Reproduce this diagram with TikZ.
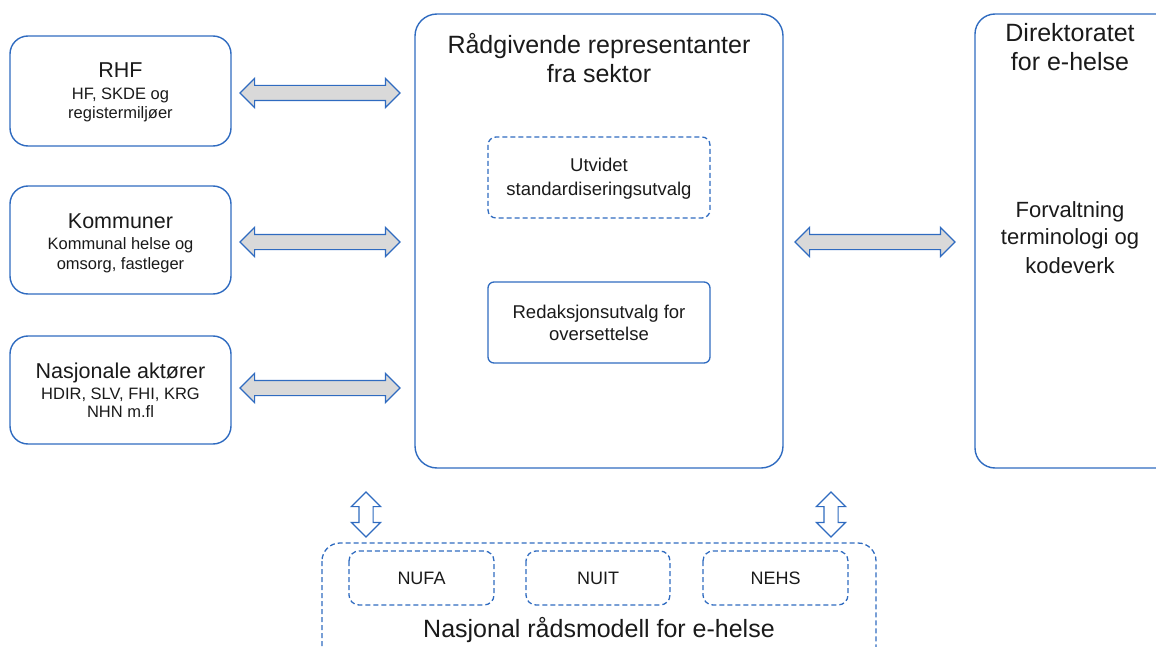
\documentclass[tikz,border=0pt]{standalone}
\usepackage{fontspec}
\setmainfont{Liberation Sans}
\usetikzlibrary{shapes.arrows}
\definecolor{bl}{HTML}{2F6BC0}
\definecolor{ag}{HTML}{D9D9D9}
\definecolor{tx}{HTML}{1A1A1A}
\tikzset{
  box/.style={draw=bl, line width=1.4pt, rounded corners=18pt, minimum width=#1},
  dbox/.style={draw=bl, line width=1.3pt, dash pattern=on 5pt off 3pt, rounded corners=10pt},
  harr/.style={double arrow, draw=bl, fill=ag, line width=1.2pt, inner sep=7pt,
    double arrow head extend=7pt, minimum width=28pt, minimum height=#1},
  varr/.style={double arrow, draw=bl, fill=white, line width=1.2pt, inner sep=6.5pt,
    double arrow head extend=7.5pt, minimum width=28pt, minimum height=#1, rotate=90},
  t/.style={anchor=base, inner sep=0pt, text=tx, font=\fontsize{#1}{#1}\selectfont},
}
\begin{document}
\begin{tikzpicture}[x=1pt,y=-1pt]
\useasboundingbox (0,0) rectangle (1156,647);
\clip (0,0) rectangle (1156,647);
% left boxes
\draw[box] (10,36) rectangle (231,146);
\coordinate (rhf) at (120.5,91);
\draw[box] (10,186) rectangle (231,294);
\coordinate (kom) at (120.5,240);
\draw[box] (10,336) rectangle (231,444);
\coordinate (nas) at (120.5,390);
% centre
\draw[box,rounded corners=22pt] (415,14) rectangle (783,468);
\draw[box,rounded corners=20pt] (975,14) rectangle (1190,468);
\draw[dbox,rounded corners=8pt] (488,137) rectangle (710,218);
\draw[draw=bl, line width=1.3pt, rounded corners=6pt] (488,282) rectangle (710,363);
% bottom
\draw[dbox,rounded corners=18pt] (322,543) rectangle (876,700);
\draw[dbox] (349,551) rectangle (494,605);
\draw[dbox] (526,551) rectangle (670,605);
\draw[dbox] (703,551) rectangle (848,605);
% horizontal arrows
\node[harr=160pt] (a1) at (320,93) {};
\node[harr=160pt] (a2) at (320,242) {};
\node[harr=160pt] (a3) at (320,388) {};
\node[harr=160pt] (a4) at (875,242) {};
% vertical arrows
\node[varr=45pt] (v1) at (366,514.5) {};
\node[varr=45pt] (v2) at (831,514.5) {};
% texts
\node[t=21.5] (rhf1) at (120.5,78) {RHF};
\node[t=16.5] (rhf2) at (120.5,100) {HF, SKDE og};
\node[t=16.5] (rhf3) at (120.5,119) {registermiljøer};
\node[t=21.5] (kom1) at (120.5,228) {Kommuner};
\node[t=16.5] (kom2) at (120.5,249) {Kommunal helse og};
\node[t=16.5] (kom3) at (120.5,269) {omsorg, fastleger};
\node[t=21.5] (nas1) at (120.5,378) {Nasjonale aktører};
\node[t=16.5] (nas2) at (120.5,399) {HDIR, SLV, FHI, KRG};
\node[t=16.5] (nas3) at (120.5,417) {NHN m.fl};
\node[t=25] (c1) at (599,54) {Rådgivende representanter};
\node[t=25] (c2) at (599,83) {fra sektor};
\node[t=25] (d1) at (1070,42) {Direktoratet};
\node[t=25] (d2) at (1070,71) {for e-helse};
\node[t=22] (d3) at (1070,218) {Forvaltning};
\node[t=22] (d4) at (1070,244) {terminologi og};
\node[t=22] (d5) at (1070,273) {kodeverk};
\node[t=18.5] (u1) at (599,172) {Utvidet};
\node[t=18.5] (u2) at (599,196) {standardiseringsutvalg};
\node[t=18.5] (r1) at (599,318) {Redaksjonsutvalg for};
\node[t=18.5] (r2) at (599,340) {oversettelse};
\node[t=18] (n1) at (421.5,584) {NUFA};
\node[t=18] (n2) at (598,584) {NUIT};
\node[t=18] (n3) at (775.5,584) {NEHS};
\node[t=25] (nr) at (599,637) {Nasjonal rådsmodell for e-helse};
\end{tikzpicture}
\end{document}
